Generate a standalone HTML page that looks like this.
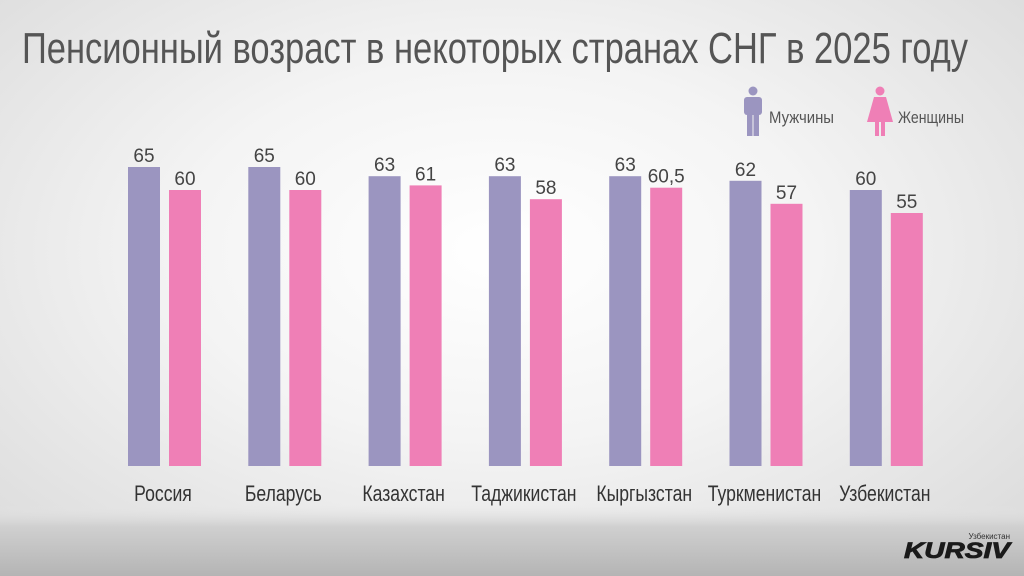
<!DOCTYPE html>
<html><head><meta charset="utf-8"><style>
html,body{margin:0;padding:0;width:1024px;height:576px;overflow:hidden}
body{background:radial-gradient(ellipse 700px 420px at 500px 250px,#ffffff 0%,#f4f4f4 45%,#dcdcdc 100%)}
svg{display:block}
</style></head><body>
<svg id="chart" width="1024" height="576" viewBox="0 0 1024 576">
<defs>
<linearGradient id="foot" x1="0" y1="0" x2="0" y2="1"><stop offset="0" stop-color="#e6e6e6" stop-opacity="0"/><stop offset="0.3" stop-color="#d0d0d0"/><stop offset="1" stop-color="#b4b4b4"/></linearGradient>
</defs>
<rect x="0" y="505" width="1024" height="71" fill="url(#foot)"/>
<text x="22" y="63" textLength="946" lengthAdjust="spacingAndGlyphs" font-family="'Liberation Sans Narrow','Liberation Sans',sans-serif" font-size="44" fill="#555">Пенсионный возраст в некоторых странах СНГ в 2025 году</text>
<g>
<g fill="#9b95c0">
<circle cx="753" cy="91" r="4.5"/><rect x="744" y="97" width="18" height="18" rx="3"/><rect x="747" y="110" width="5.5" height="26"/><rect x="753.5" y="110" width="5.5" height="26"/></g>
<text x="769" y="123" textLength="65" lengthAdjust="spacingAndGlyphs" font-family="'Liberation Sans Narrow','Liberation Sans',sans-serif" font-size="17" fill="#555">Мужчины</text>
<g fill="#ef7fb6">
<circle cx="880" cy="91" r="4.5"/><path d="M874 97 H886 L893 122 H867 Z"/><rect x="875" y="120" width="4" height="16"/><rect x="881" y="120" width="4" height="16"/></g>
<text x="898" y="123" textLength="66" lengthAdjust="spacingAndGlyphs" font-family="'Liberation Sans Narrow','Liberation Sans',sans-serif" font-size="17" fill="#555">Женщины</text>
</g>
<g id="bars"></g>
<text x="1010" y="539" text-anchor="end" font-family="'Liberation Sans',sans-serif" font-size="8" fill="#333">Узбекистан</text>
<text x="1010" y="558" text-anchor="end" textLength="106" lengthAdjust="spacingAndGlyphs" font-family="'Liberation Sans',sans-serif" font-size="22" font-weight="bold" font-style="italic" fill="#1a1a1a" stroke="#1a1a1a" stroke-width="0.8">KURSIV</text>
</svg>
<script>
const categories=["Россия","Беларусь","Казахстан","Таджикистан","Кыргызстан","Туркменистан","Узбекистан"];
const menValues=[65,65,63,63,63,62,60];
const womenValues=[60,60,61,58,60.5,57,55];
const valueLabelsMen=["65","65","63","63","63","62","60"];
const valueLabelsWomen=["60","60","61","58","60,5","57","55"];
const NS="http://www.w3.org/2000/svg";
const g=document.getElementById('bars');
const base=466,k=4.6;
function y(v){return base-v*k;}
function xg(i){return 128+i*120.3;}
const bw=32;
function mk(t,a,p){const e=document.createElementNS(NS,t);for(const n in a)e.setAttribute(n,a[n]);(p||g).appendChild(e);return e;}
categories.forEach((c,i)=>{
 const x=xg(i);
 const r1=mk('rect',{x:x,y:y(menValues[i]),width:bw,height:base-y(menValues[i]),fill:'#9b95c0'});
 
 
 const r2=mk('rect',{x:x+41,y:y(womenValues[i]),width:bw,height:base-y(womenValues[i]),fill:'#ef7fb6'});
 
 
 const t1=mk('text',{x:x+bw/2,y:y(menValues[i])-5,'text-anchor':'middle','font-family':'Liberation Sans,sans-serif','font-size':'19',fill:'#444'});
 t1.textContent=valueLabelsMen[i];
 
 
 const t2=mk('text',{x:x+41+bw/2,y:y(womenValues[i])-5,'text-anchor':'middle','font-family':'Liberation Sans,sans-serif','font-size':'19',fill:'#444'});
 t2.textContent=valueLabelsWomen[i];
 
 
 const cx=x+35;
 const lg=mk('g',{transform:'translate('+cx+',501) scale(0.8,1)'});
 const t3=mk('text',{x:0,y:0,'text-anchor':'middle','font-family':"'Liberation Sans',sans-serif",'font-size':'22',fill:'#333'},lg);
 t3.textContent=c;
 
 
});
</script>
</body></html>
